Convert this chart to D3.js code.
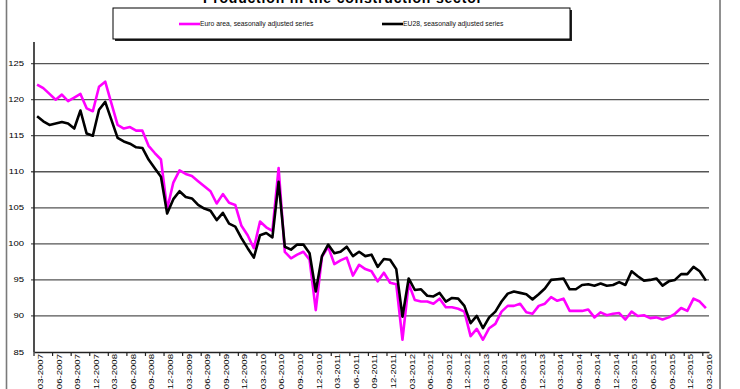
<!DOCTYPE html>
<html>
<head>
<meta charset="utf-8">
<script src="https://cdn.jsdelivr.net/npm/d3@7"></script>
<style>
  body { margin: 0; background: #fff; }
  svg { display: block; font-family: "Liberation Sans", Arial, sans-serif; }
</style>
</head>
<body>
<svg id="chart"></svg>
<script>
// monthly index values, 03-2007 .. 03-2016
const euroArea = [
  122.1, 121.6, 120.8, 120.0, 120.7, 119.8, 120.3, 120.8, 118.8, 118.4,
  121.8, 122.5, 119.5, 116.5, 116.0, 116.2, 115.7, 115.7, 113.6, 112.6,
  111.7, 104.8, 108.5, 110.2, 109.7, 109.4, 108.7, 108.0, 107.3, 105.6,
  106.9, 105.7, 105.4, 102.5, 101.2, 99.4, 103.1, 102.3, 101.8, 110.5,
  98.9, 98.0, 98.5, 98.9, 97.8, 90.8, 98.2, 99.6, 97.2, 97.7,
  98.1, 95.6, 97.1, 96.5, 96.2, 94.8, 96.0, 94.6, 94.4, 86.7,
  94.5, 92.2, 92.0, 92.0, 91.7, 92.4, 91.2, 91.2, 91.0, 90.6,
  87.2, 88.2, 86.7, 88.3, 88.9, 90.6, 91.4, 91.4, 91.7, 90.5,
  90.3, 91.4, 91.7, 92.6, 92.1, 92.4, 90.7, 90.7, 90.7, 90.9,
  89.8, 90.5, 90.1, 90.3, 90.4, 89.5, 90.6, 90.0, 90.1, 89.7,
  89.8, 89.5, 89.8, 90.3, 91.1, 90.7, 92.4, 92.0, 91.1
];
const eu28 = [
  117.7, 117.0, 116.5, 116.7, 116.9, 116.7, 116.0, 118.5, 115.3, 115.0,
  118.6, 119.7, 117.2, 114.7, 114.2, 113.9, 113.4, 113.3, 111.7, 110.5,
  109.3, 104.2, 106.2, 107.3, 106.5, 106.3, 105.4, 104.9, 104.6, 103.3,
  104.3, 102.8, 102.4, 100.8, 99.4, 98.1, 101.2, 101.5, 100.9, 108.6,
  99.6, 99.2, 99.9, 99.9, 98.7, 93.4, 98.3, 99.9, 98.7, 98.9,
  99.6, 98.3, 98.9, 98.3, 98.5, 96.8, 97.9, 97.8, 96.5, 89.9,
  95.2, 93.6, 93.7, 92.8, 92.7, 93.2, 92.0, 92.5, 92.4, 91.4,
  89.0, 90.0, 88.3, 89.8, 90.6, 92.0, 93.1, 93.4, 93.2, 93.0,
  92.3, 93.0, 93.8, 95.0, 95.1, 95.2, 93.7, 93.7, 94.3, 94.4,
  94.2, 94.5, 94.2, 94.3, 94.7, 94.3, 96.2, 95.5, 94.9, 95.0,
  95.2, 94.2, 94.8, 95.0, 95.8, 95.8, 96.8, 96.2, 94.9
];
const tickLabels = [
  "03-2007", "06-2007", "09-2007", "12-2007", "03-2008", "06-2008", "09-2008", "12-2008",
  "03-2009", "06-2009", "09-2009", "12-2009", "03-2010", "06-2010", "09-2010", "12-2010",
  "03-2011", "06-2011", "09-2011", "12-2011", "03-2012", "06-2012", "09-2012", "12-2012",
  "03-2013", "06-2013", "09-2013", "12-2013", "03-2014", "06-2014", "09-2014", "12-2014",
  "03-2015", "06-2015", "09-2015", "12-2015", "03-2016"
];
const yTicks = [85, 90, 95, 100, 105, 110, 115, 120, 125];
const seriesNames = ["Euro area, seasonally adjusted series", "EU28, seasonally adjusted series"];
const seriesColors = ["#ff00ff", "#000000"];
const title = "Production in the construction sector";

const months = d3.timeMonth.range(new Date(2007, 2, 1), new Date(2016, 3, 1));
const fmt = d3.timeFormat("%m-%Y");

const width = 740, height = 389;
const margin = {left: 34, right: 31, top: 42, bottom: 37};

const svg = d3.select("#chart").attr("width", width).attr("height", height);

// outer frame lines
svg.append("line").attr("x1", 6.5).attr("x2", 6.5).attr("y1", 0).attr("y2", height)
  .attr("stroke", "#7a7a7a").attr("stroke-width", 1.6);
svg.append("line").attr("x1", 720).attr("x2", 720).attr("y1", 0).attr("y2", height)
  .attr("stroke", "#222").attr("stroke-width", 1);

// title (cut at the top edge, as in the source)
svg.append("text")
  .attr("x", 342.5).attr("y", 3)
  .attr("text-anchor", "middle")
  .attr("font-weight", "bold")
  .attr("font-size", "14px")
  .attr("textLength", 279)
  .text(title);

const xscale = d3.scaleBand()
  .domain(months.map(fmt))
  .range([margin.left, width - margin.right])
  .paddingInner(0).paddingOuter(0);

const yscale = d3.scaleLinear()
  .domain([85, 128])
  .range([height - margin.bottom, margin.top]);

// grid lines
svg.append("g").selectAll("line")
  .data(yTicks.slice(1))
  .join("line")
  .attr("x1", margin.left - 3)
  .attr("x2", width - margin.right)
  .attr("y1", d => yscale(d))
  .attr("y2", d => yscale(d))
  .attr("stroke", "#555")
  .attr("stroke-width", 1.3);

// y tick labels (slightly wide glyphs as in the source)
svg.append("g").selectAll("text")
  .data(yTicks)
  .join("text")
  .attr("transform", d => `translate(24, ${yscale(d)}) scale(1.32, 1)`)
  .attr("dy", "0.35em")
  .attr("text-anchor", "end")
  .attr("font-size", "7.2px")
  .attr("fill", "#000")
  .text(d => d);

// x axis
const xaxis = d3.axisBottom(xscale)
  .tickValues(tickLabels)
  .tickSize(0)
  .tickFormat(d => d);

const xaxis_group = svg.append("g")
  .attr("transform", `translate(0, ${yscale(85)})`)
  .call(xaxis);
xaxis_group.select(".domain").attr("stroke", "#222").attr("stroke-width", 1.4);
xaxis_group.selectAll(".tick text")
  .attr("transform", `translate(${xscale.bandwidth() / 2 + 0.5}, 2) rotate(-90) scale(1, 0.68)`)
  .attr("x", 0).attr("y", 0).attr("dy", "0.35em")
  .attr("text-anchor", "end")
  .attr("font-size", "9.6px")
  .attr("fill", "#000");

// ticks on category boundaries
svg.append("g").selectAll("line")
  .data(tickLabels)
  .join("line")
  .attr("x1", d => xscale(d))
  .attr("x2", d => xscale(d))
  .attr("y1", yscale(85))
  .attr("y2", yscale(85) + 4)
  .attr("stroke", "#222")
  .attr("stroke-width", 1.2);

// y axis line
svg.append("line")
  .attr("x1", margin.left).attr("x2", margin.left)
  .attr("y1", yscale(128)).attr("y2", yscale(85))
  .attr("stroke", "#222").attr("stroke-width", 1.6);

// series
const line = d3.line()
  .x((d, i) => xscale(fmt(months[i])) + xscale.bandwidth() / 2)
  .y(d => yscale(d));

[euroArea, eu28].forEach((s, k) => {
  svg.append("path")
    .datum(s)
    .attr("d", line)
    .attr("fill", "none")
    .attr("stroke", seriesColors[k])
    .attr("stroke-width", 2.6)
    .attr("stroke-linejoin", "round");
});

// legend box with shadow
const legend = svg.append("g");
legend.append("rect").attr("x", 115).attr("y", 10).attr("width", 457).attr("height", 31).attr("fill", "#222");
legend.append("rect").attr("x", 113).attr("y", 8).attr("width", 457).attr("height", 31)
  .attr("fill", "#fff").attr("stroke", "#000").attr("stroke-width", 1);

const legendX = [179, 382];
seriesNames.forEach((name, k) => {
  legend.append("line")
    .attr("x1", legendX[k]).attr("x2", legendX[k] + 21)
    .attr("y1", 24).attr("y2", 24)
    .attr("stroke", seriesColors[k]).attr("stroke-width", 2.6);
  legend.append("text")
    .attr("x", legendX[k] + 21).attr("y", 24)
    .attr("dy", "0.35em")
    .attr("font-size", "6.8px")
    .attr("fill", "#111")
    .text(name);
});
</script>
</body>
</html>
